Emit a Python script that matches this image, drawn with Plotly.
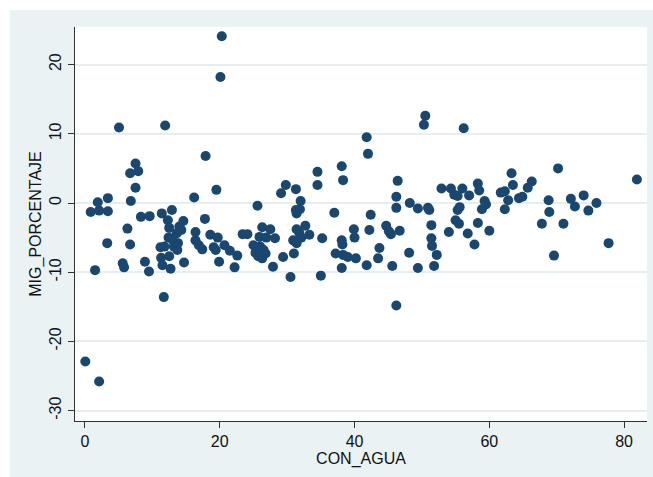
import plotly.graph_objects as go

# CON_AGUA (x) and MIG_PORCENTAJE (y) per observation
con_agua = [
    0.05, 2.1, 1.5, 0.85, 2.1, 3.4, 1.9, 3.4, 3.3, 5.05, 5.6, 5.8, 6.3, 6.7, 6.8,
    6.7, 7.9, 7.5, 7.5, 8.3, 9.6, 8.9, 9.5,
    11.9, 11.4, 12.9, 12.3, 14.6, 12.5, 14.0, 14.3, 13.6, 12.4, 13.0, 13.8, 13.2,
    11.2, 11.8, 13.7, 11.3, 12.5, 11.5, 12.7, 14.7, 11.7, 16.2, 17.8, 17.9, 16.4,
    16.4, 16.9, 17.4, 18.6, 19.7, 19.1, 19.4, 19.5, 20.1, 20.3, 19.9, 20.7,
    21.5, 22.6, 22.2, 23.4, 24.1, 25.6, 26.3, 27.5, 25.9, 26.9, 28.2, 25.0, 26.0,
    26.5, 25.3, 26.8, 25.7, 26.3, 27.9, 29.8, 29.1, 29.4, 30.5,
    31.3, 32.0, 31.3, 31.9, 31.4, 30.9, 31.4, 31.8, 31.4, 32.7, 33.3, 32.1, 31.0,
    34.5, 34.5, 35.2, 35.0, 37.0, 38.1, 38.3, 38.1, 38.2, 39.9, 40.0, 37.2, 38.3,
    39.0, 40.2, 38.1,
    41.8, 42.0, 42.4, 42.2, 41.8, 43.7, 43.5, 44.7, 45.4, 45.1, 46.7, 45.6, 46.4,
    46.2, 46.2, 46.2, 48.2, 49.4, 48.1, 49.4,
    50.5, 50.3, 50.9, 51.1, 51.4, 51.4, 51.5, 52.2, 51.8, 52.9, 54.3, 56.0, 54.8,
    55.3, 57.0, 56.2, 55.6, 55.3, 55.0, 55.5, 54.0, 56.8, 57.8, 58.3, 58.5, 58.3,
    59.3, 59.5, 58.9,
    60.0, 61.7, 62.3, 62.8, 62.3, 63.3, 63.5, 64.4, 64.9, 65.7, 66.3, 67.8, 68.8,
    68.9, 69.6, 70.2, 71.0, 72.1, 72.7, 74.0, 74.7, 75.9, 77.7, 81.9,
]
mig_porcentaje = [
    -22.9, -25.8, -9.7, -1.3, -1.1, -1.2, 0.1, 0.7, -5.8, 10.9, -8.7, -9.3, -3.7, -6.0, 0.3,
    4.3, 4.6, 5.7, 2.2, -2.0, -1.9, -8.5, -9.9,
    11.2, -1.5, -1.0, -2.5, -2.6, -3.6, -3.4, -3.9, -4.4, -5.0, -5.3, -5.8, -6.3,
    -6.4, -6.3, -6.8, -7.9, -7.7, -9.0, -9.5, -8.6, -13.6, 0.8, -2.3, 6.8, -4.2,
    -5.4, -6.1, -6.7, -4.6, -5.0, -6.4, -6.8, 1.9, 18.2, 24.1, -8.5, -6.1,
    -6.9, -7.6, -9.3, -4.5, -4.5, -0.4, -3.5, -3.8, -4.9, -5.0, -5.1, -6.1, -6.3,
    -6.8, -7.2, -7.3, -7.7, -8.0, -9.2, 2.6, 1.4, -7.8, -10.7,
    2.0, 0.3, -1.0, -0.9, -1.5, -5.4, -5.8, -4.3, -3.8, -3.3, -4.6, -5.0, -7.3,
    4.5, 2.6, -5.1, -10.5, -1.4, 5.3, 3.3, -5.4, -6.0, -3.8, -5.0, -7.3, -7.5,
    -7.8, -8.0, -9.4,
    9.5, 7.1, -1.7, -3.9, -9.0, -6.5, -8.0, -3.3, -4.5, -4.1, -4.0, -9.1, 3.2,
    0.9, -0.7, -14.8, 0.0, -0.8, -7.2, -9.4,
    12.6, 11.3, -0.7, -1.0, -3.2, -5.1, -6.2, -7.5, -9.1, 2.1, 2.1, 2.1, 1.2,
    1.0, 1.1, 10.8, -0.6, -1.0, -2.5, -3.0, -4.2, -4.4, -6.0, 2.8, 1.8, -2.9,
    0.3, -0.2, -0.9,
    -4.0, 1.5, 1.7, 0.4, -0.9, 4.3, 2.6, 0.7, 0.9, 2.2, 3.1, -3.0, 0.4,
    -1.3, -7.6, 5.0, -3.0, 0.6, -0.5, 1.1, -1.1, 0.0, -5.8, 3.4,
]

x_ticks = [0, 20, 40, 60, 80]
y_ticks = [-30, -20, -10, 0, 10, 20]
y_tick_text = ["-30", "-20", "-10", "0", "10", "20"]

NAVY = "#1a476f"
REGION = "#eaf2f3"
FONT = "Liberation Sans, Arial, sans-serif"

fig = go.Figure()
fig.add_trace(go.Scatter(
    x=con_agua, y=mig_porcentaje, mode="markers",
    marker=dict(color=NAVY, size=10, line=dict(width=0)),
    showlegend=False, hoverinfo="x+y",
))

# plot area occupies x 75..647 px, y 27..421 px of the 653x477 page
L, R, T, B = 75, 6, 27, 56
W, H = 653, 477
pw, ph = W - L - R, H - T - B

def px_x(p):
    return (p - L) / pw

def px_y(p):
    return (H - B - p) / ph

# graph region tint behind the plot area
fig.add_shape(type="rect", xref="paper", yref="paper", layer="below",
              x0=px_x(10), x1=px_x(W + 2), y0=px_y(H + 2), y1=px_y(10),
              fillcolor=REGION, line=dict(width=0))
fig.add_shape(type="rect", xref="paper", yref="paper", layer="below",
              x0=0, x1=1, y0=0, y1=1, fillcolor="white", line=dict(width=0))

fig.update_layout(
    width=W, height=H,
    margin=dict(l=L, r=R, t=T, b=B, pad=0),
    paper_bgcolor="white",
    plot_bgcolor="rgba(0,0,0,0)",
    font=dict(family=FONT, size=16, color="#111111"),
    xaxis=dict(
        range=[-1.48, 83.4], tickvals=x_ticks, ticks="outside", ticklen=6,
        tickcolor="#333333", showline=True, linecolor="#333333", linewidth=1.3,
        showgrid=False, zeroline=False,
        title=dict(text="CON_AGUA", standoff=1, font=dict(size=16)),
        tickfont=dict(size=16),
    ),
    yaxis=dict(
        range=[-31.5, 25.43], tickvals=y_ticks, ticktext=y_tick_text,
        ticks="outside", ticklen=6,
        tickcolor="#333333", showline=True, linecolor="#333333", linewidth=1.3,
        showgrid=True, gridcolor="#e6eef0", gridwidth=1.5, zeroline=False,
        tickangle=-90,
        title=dict(text="MIG_PORCENTAJE", standoff=1, font=dict(size=16)),
        tickfont=dict(size=16),
    ),
)

fig.write_html("out.html")
